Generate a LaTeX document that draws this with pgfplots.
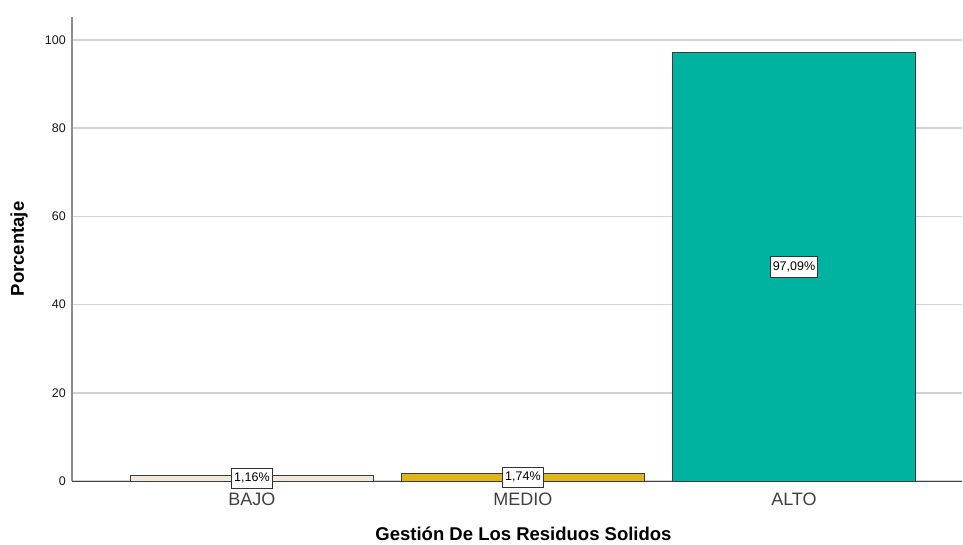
\documentclass[border=0pt]{standalone}
\usepackage{pgfplots}
\pgfplotsset{compat=1.18}
\usepackage{pgfplotstable}
\usepackage{fontspec}
\setmainfont{Liberation Sans}
\definecolor{cbajo}{HTML}{EEE9D8}
\definecolor{cmedio}{HTML}{DEB51A}
\definecolor{calto}{HTML}{00B3A0}
\definecolor{bardraw}{HTML}{3C3C3C}
\definecolor{gridc}{HTML}{D2D2D2}
\pgfplotstableread{
x y
0 1.16
1 1.74
2 97.09
}\datatable
\begin{document}
\begin{tikzpicture}
\begin{axis}[
  name=ax,
  scale only axis,
  width=890pt, height=464pt,
  xmin=-0.664, xmax=2.620,
  ymin=0, ymax=105.2,
  axis x line*=bottom,
  axis y line*=left,
  x axis line style={draw=black!75, line width=1pt, -},
  y axis line style={draw=black!45, line width=1.5pt, -},
  xtick={0,1,2},
  xticklabels={BAJO,MEDIO,ALTO},
  ytick={0,20,40,60,80,100},
  major tick length=0pt,
  tick style={draw=none},
  ymajorgrids,
  grid style={draw=gridc, line width=1.5pt},
  xticklabel style={font=\fontsize{18}{20}\selectfont, text=black!75, anchor=base, inner sep=0pt, yshift=-24.5pt},
  yticklabel style={font=\fontsize{12.5}{14}\selectfont, text=black!90, inner sep=0pt, xshift=-6pt},
  /pgf/number format/assume math mode=true,
  xlabel={Gestión De Los Residuos Solidos},
  ylabel={Porcentaje},
  xlabel style={font=\bfseries\fontsize{18.5}{20}\selectfont, at={(axis description cs:0.5073,-0.1128)}, anchor=center},
  ylabel style={font=\bfseries\fontsize{18.5}{20}\selectfont, at={(axis description cs:-0.0595,0.5)}, anchor=center},
  clip=false,
]
\addplot[ybar, bar width=243pt, bar shift=0pt, fill=cbajo, draw=bardraw, line width=1pt] coordinates {(0,1.16)};
\addplot[ybar, bar width=243pt, bar shift=0pt, fill=cmedio, draw=bardraw, line width=1pt] coordinates {(1,1.74)};
\addplot[ybar, bar width=243pt, bar shift=0pt, fill=calto, draw=bardraw, line width=1pt] coordinates {(2,97.09)};
\addplot[draw=none, mark=none,
  point meta=explicit,
  nodes near coords={\pgfmathprintnumber[use comma, fixed, fixed zerofill, precision=2, assume math mode=true]{\pgfplotspointmeta}\%},
  every node near coord/.append style={anchor=center, fill=white, draw=black!80, line width=0.8pt,
    font=\fontsize{12.5}{14}\selectfont, inner xsep=2.5pt, inner ysep=4.5pt, text height=9pt, text depth=2.5pt, text=black},
] table[x=x, y expr=\thisrow{y}/2, meta=y] \datatable;
\end{axis}
\pgfresetboundingbox
\useasboundingbox (-72pt,-63pt) rectangle (891pt,481pt);
\end{tikzpicture}
\end{document}
